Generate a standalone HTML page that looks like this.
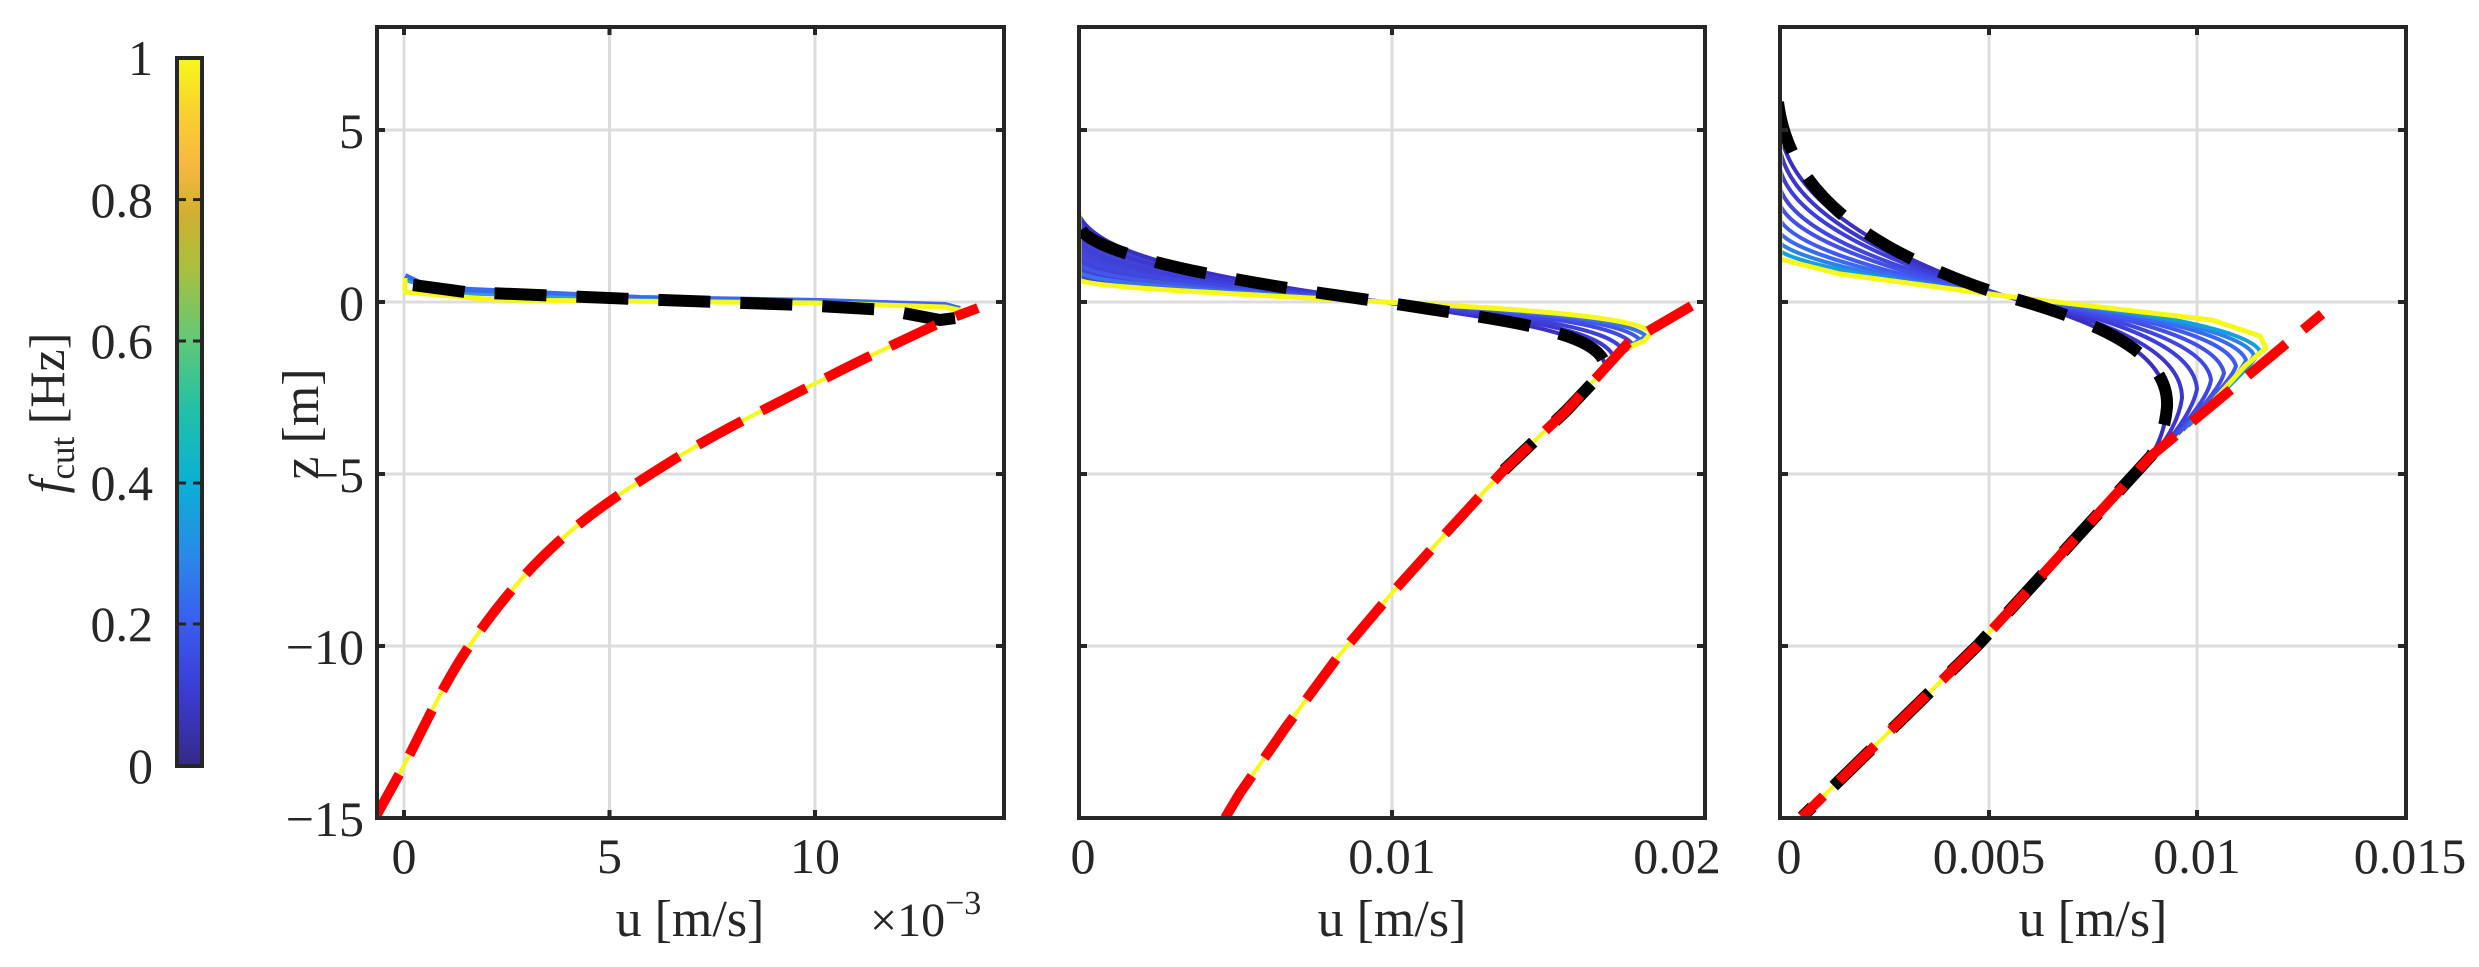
<!DOCTYPE html>
<html><head><meta charset="utf-8"><style>
html,body{margin:0;padding:0;background:#fff;}
svg{display:block;font-family:"Liberation Serif",serif;}
</style></head><body>
<svg width="2479" height="967" viewBox="0 0 2479 967" xmlns="http://www.w3.org/2000/svg">
<defs>
<linearGradient id="par" x1="0" y1="1" x2="0" y2="0">
<stop offset="0" stop-color="#352a87"/>
<stop offset="0.1" stop-color="#3a3ad0"/>
<stop offset="0.2" stop-color="#3a5cf0"/>
<stop offset="0.3" stop-color="#2a8ae8"/>
<stop offset="0.4" stop-color="#0ab0d5"/>
<stop offset="0.5" stop-color="#20c0a8"/>
<stop offset="0.6" stop-color="#60c878"/>
<stop offset="0.7" stop-color="#a8c040"/>
<stop offset="0.78" stop-color="#d0b030"/>
<stop offset="0.85" stop-color="#f8b840"/>
<stop offset="0.92" stop-color="#f8d030"/>
<stop offset="1" stop-color="#f8f818"/>
</linearGradient>
<clipPath id="c1"><rect x="377" y="27" width="627" height="791"/></clipPath>
<clipPath id="c2"><rect x="1079" y="27" width="626" height="791"/></clipPath>
<clipPath id="c3"><rect x="1780" y="27" width="626" height="791"/></clipPath>
</defs>

<!-- colorbar -->
<rect x="177" y="58" width="25" height="708" fill="url(#par)" stroke="#262626" stroke-width="4"/>
<g stroke="#262626" stroke-width="3">
<line x1="179" y1="199.6" x2="186" y2="199.6"/><line x1="193" y1="199.6" x2="200" y2="199.6"/>
<line x1="179" y1="341" x2="186" y2="341"/><line x1="193" y1="341" x2="200" y2="341"/>
<line x1="179" y1="483" x2="186" y2="483"/><line x1="193" y1="483" x2="200" y2="483"/>
<line x1="179" y1="624" x2="186" y2="624"/><line x1="193" y1="624" x2="200" y2="624"/>
</g>
<g font-size="50" fill="#262626" text-anchor="end">
<text x="153" y="75">1</text>
<text x="153" y="217">0.8</text>
<text x="153" y="358">0.6</text>
<text x="153" y="500">0.4</text>
<text x="153" y="641">0.2</text>
<text x="153" y="783">0</text>
</g>
<text transform="translate(64,413) rotate(-90)" font-size="50" fill="#262626" text-anchor="middle"><tspan font-style="italic">f</tspan><tspan font-size="35" dy="10">cut</tspan><tspan dy="-10"> [Hz]</tspan></text>

<!-- grids -->
<g stroke="#dcdcdc" stroke-width="3">
<line x1="404" y1="27" x2="404" y2="818"/><line x1="609.5" y1="27" x2="609.5" y2="818"/><line x1="815" y1="27" x2="815" y2="818"/>
<line x1="1392" y1="27" x2="1392" y2="818"/>
<line x1="1989" y1="27" x2="1989" y2="818"/><line x1="2197" y1="27" x2="2197" y2="818"/>
<line x1="377" y1="130" x2="1004" y2="130"/><line x1="377" y1="302" x2="1004" y2="302"/><line x1="377" y1="474" x2="1004" y2="474"/><line x1="377" y1="646" x2="1004" y2="646"/>
<line x1="1079" y1="130" x2="1705" y2="130"/><line x1="1079" y1="302" x2="1705" y2="302"/><line x1="1079" y1="474" x2="1705" y2="474"/><line x1="1079" y1="646" x2="1705" y2="646"/>
<line x1="1780" y1="130" x2="2406" y2="130"/><line x1="1780" y1="302" x2="2406" y2="302"/><line x1="1780" y1="474" x2="2406" y2="474"/><line x1="1780" y1="646" x2="2406" y2="646"/>
</g>

<!-- panel 1 -->
<g clip-path="url(#c1)" fill="none" stroke-linejoin="round">
<path d="M375,818 C379.3,810.2 385.5,799.3 401,771 C416.5,742.7 442,686 468,648 C494,610 522,574.8 557,543 C592,511.2 634.2,484 678,457 C721.8,430 778.2,402.5 820,381 C861.8,359.5 902.7,340.2 929,328 L963,312" stroke="#f8f818" stroke-width="4"/>
<polyline points="405,276 430,288 640,298 820,301 945,305 960,309" stroke="#3a6af2" stroke-width="6"/>
<polyline points="405,280 440,293 640,300 820,303 945,307" stroke="#2aa0e0" stroke-width="3"/>
<polyline points="405,278 405,292 497,300 817,303 945,307 963,311" stroke="#f8f818" stroke-width="5"/>
<polyline points="413,285 465,292 633,299 801,305 887,310 940,320 963,317" stroke="#000" stroke-width="12" stroke-dasharray="52,30"/>
<path d="M375,818 C379.3,810.2 385.5,799.3 401,771 C416.5,742.7 442,686 468,648 C494,610 522,574.8 557,543 C592,511.2 634.2,484 678,457 C721.8,430 778.2,402.5 820,381 C861.8,359.5 902.7,340.2 929,328 C955.3,315.8 969.8,311.3 978,308" stroke="#ff0000" stroke-width="10" stroke-dasharray="50,22"/>
</g>

<!-- panel 2 -->
<g clip-path="url(#c2)" fill="none" stroke-linejoin="round">
<polyline points="1225,818 1240,793 1286,727 1337,658 1392,593 1447,532 1504,470 1567,410 1622,350" stroke="#f8f818" stroke-width="4"/>
<path d="M1079,215 C1095,250 1180,275 1384,302 C1200,292 1090,287 1079,280 Z" fill="#4343d6" stroke="none"/>
<g stroke-width="4">
<path d="M1079,215 C1095,250 1180,275 1384,302 C1480,318 1598,328 1605,365 L1599,376" stroke="#3a30c4"/>
<path d="M1079,228 C1094,257 1184,278 1384,302 C1484,316 1604,325 1614,358 L1604,371" stroke="#3c38d0"/>
<path d="M1079,241 C1093,265 1188,282 1384,302 C1488,314 1611,323 1624,352 L1608,366" stroke="#3e40da"/>
<path d="M1079,254 C1092,272 1192,285 1384,302 C1492,312 1617,320 1633,345 L1613,360" stroke="#4048e2"/>
<path d="M1079,264 C1091,278 1195,288 1384,302 C1495,310 1622,318 1640,340 L1616,356" stroke="#4256ea"/>
<path d="M1079,272 C1091,283 1198,290 1384,302 C1498,309 1626,317 1646,336 L1619,353" stroke="#3a72ee"/>
</g>
<path d="M1079,212 L1079,280 C1090,287 1200,292 1384,302 C1500,308 1630,315 1652,332 L1644,341 L1622,350" stroke="#f8f818" stroke-width="5"/>
<path d="M1081,230 C1095,250 1180,275 1384,302 C1480,318 1598,328 1605,365 L1599,376 L1567,410 L1504,470" stroke="#000" stroke-width="12" stroke-dasharray="52,30"/>
<polyline points="1225,818 1240,793 1286,727 1337,658 1392,593 1447,532 1504,470 1567,410 1628,343 1705,298" stroke="#ff0000" stroke-width="10" stroke-dasharray="50,22"/>
</g>

<!-- panel 3 -->
<g clip-path="url(#c3)" fill="none" stroke-linejoin="round">
<polyline points="1802,817 1978,645 2151,456 2197,419" stroke="#f8f818" stroke-width="4"/>
<g stroke-width="4">
<path d="M1780,130 C1790,200 1880,255 2005,296 C2090,320 2170,350 2167,407 C2165,430 2158,445 2151,456" stroke="#3a2fc0"/>
<path d="M1780,149 C1791,210 1883,260 2005,296 C2094,318 2182,346 2182,398 C2179,420 2167,438 2158,450" stroke="#3c36cf"/>
<path d="M1780,169 C1793,220 1886,264 2005,296 C2099,316 2194,342 2197,389 C2193,409 2177,430 2165,445" stroke="#3e3ed8"/>
<path d="M1780,188 C1794,231 1889,269 2005,296 C2103,315 2206,339 2211,380 C2208,398 2186,422 2172,439" stroke="#4046e0"/>
<path d="M1780,205 C1796,239 1892,273 2005,296 C2107,313 2216,335 2224,373 C2220,389 2194,416 2178,434" stroke="#4250e8"/>
<path d="M1780,220 C1797,248 1894,277 2005,296 C2111,312 2226,332 2236,366 C2231,381 2201,410 2183,430" stroke="#3f5af0"/>
<path d="M1780,233 C1798,254 1896,280 2005,296 C2114,310 2234,330 2246,360 C2241,374 2208,405 2188,426" stroke="#3a6af2"/>
<path d="M1780,243 C1799,260 1898,282 2005,296 C2116,309 2240,328 2254,355 C2249,368 2213,401 2191,423" stroke="#2c80ec"/>
<path d="M1780,251 C1799,264 1899,284 2005,296 C2118,309 2245,326 2260,351 C2254,364 2216,398 2194,421" stroke="#15a0dc"/>
</g>
<polyline points="1780,142 1780,259 1840,274 2005,296 2212,320 2260,336 2266,348 2245,366 2197,419" stroke="#f8f818" stroke-width="5"/>
<path d="M1778,102 C1790,200 1880,255 2005,296 C2090,320 2170,350 2167,407 C2165,430 2158,445 2151,456 L1978,645 L1802,817" stroke="#000" stroke-width="12" stroke-dasharray="52,30"/>
<polyline points="1802,817 1978,645 2151,456 2322,314" stroke="#ff0000" stroke-width="10" stroke-dasharray="50,22" stroke-dashoffset="20"/>
</g>

<!-- axes boxes and ticks -->
<g fill="none" stroke="#262626" stroke-width="4">
<rect x="377" y="27" width="627" height="791"/>
<rect x="1079" y="27" width="626" height="791"/>
<rect x="1780" y="27" width="626" height="791"/>
</g>
<g stroke="#262626" stroke-width="4">
<path d="M404,818v-8M609.5,818v-8M815,818v-8M404,27v8M609.5,27v8M815,27v8"/>
<path d="M1392,818v-8M1392,27v8M1989,818v-8M2197,818v-8M1989,27v8M2197,27v8"/>
<path d="M377,130h8M377,302h8M377,474h8M377,646h8M1004,130h-8M1004,302h-8M1004,474h-8M1004,646h-8"/>
<path d="M1079,130h8M1079,302h8M1079,474h8M1079,646h8M1705,130h-8M1705,302h-8M1705,474h-8M1705,646h-8"/>
<path d="M1780,130h8M1780,302h8M1780,474h8M1780,646h8M2406,130h-8M2406,302h-8M2406,474h-8M2406,646h-8"/>
</g>

<!-- tick labels -->
<g font-size="50" fill="#262626" text-anchor="end">
<text x="364" y="148">5</text>
<text x="364" y="320">0</text>
<text x="364" y="492">−5</text>
<text x="364" y="664">−10</text>
<text x="364" y="836">−15</text>
</g>
<g font-size="50" fill="#262626" text-anchor="middle">
<text x="404" y="873">0</text>
<text x="609.5" y="873">5</text>
<text x="815" y="873">10</text>
<text x="1083" y="873">0</text>
<text x="1392" y="873">0.01</text>
<text x="1677" y="873">0.02</text>
<text x="1789" y="873">0</text>
<text x="1989" y="873">0.005</text>
<text x="2197" y="873">0.01</text>
<text x="2410" y="873">0.015</text>
</g>
<g font-size="52" fill="#262626" text-anchor="middle">
<text x="690" y="936">u [m/s]</text>
<text x="1392" y="936">u [m/s]</text>
<text x="2093" y="936">u [m/s]</text>
</g>
<text x="870" y="936" font-size="48" fill="#262626">×10<tspan font-size="34" dy="-22">−3</tspan></text>
<text transform="translate(318,424) rotate(-90)" font-size="52" fill="#262626" text-anchor="middle">z [m]</text>
</svg>
</body></html>
